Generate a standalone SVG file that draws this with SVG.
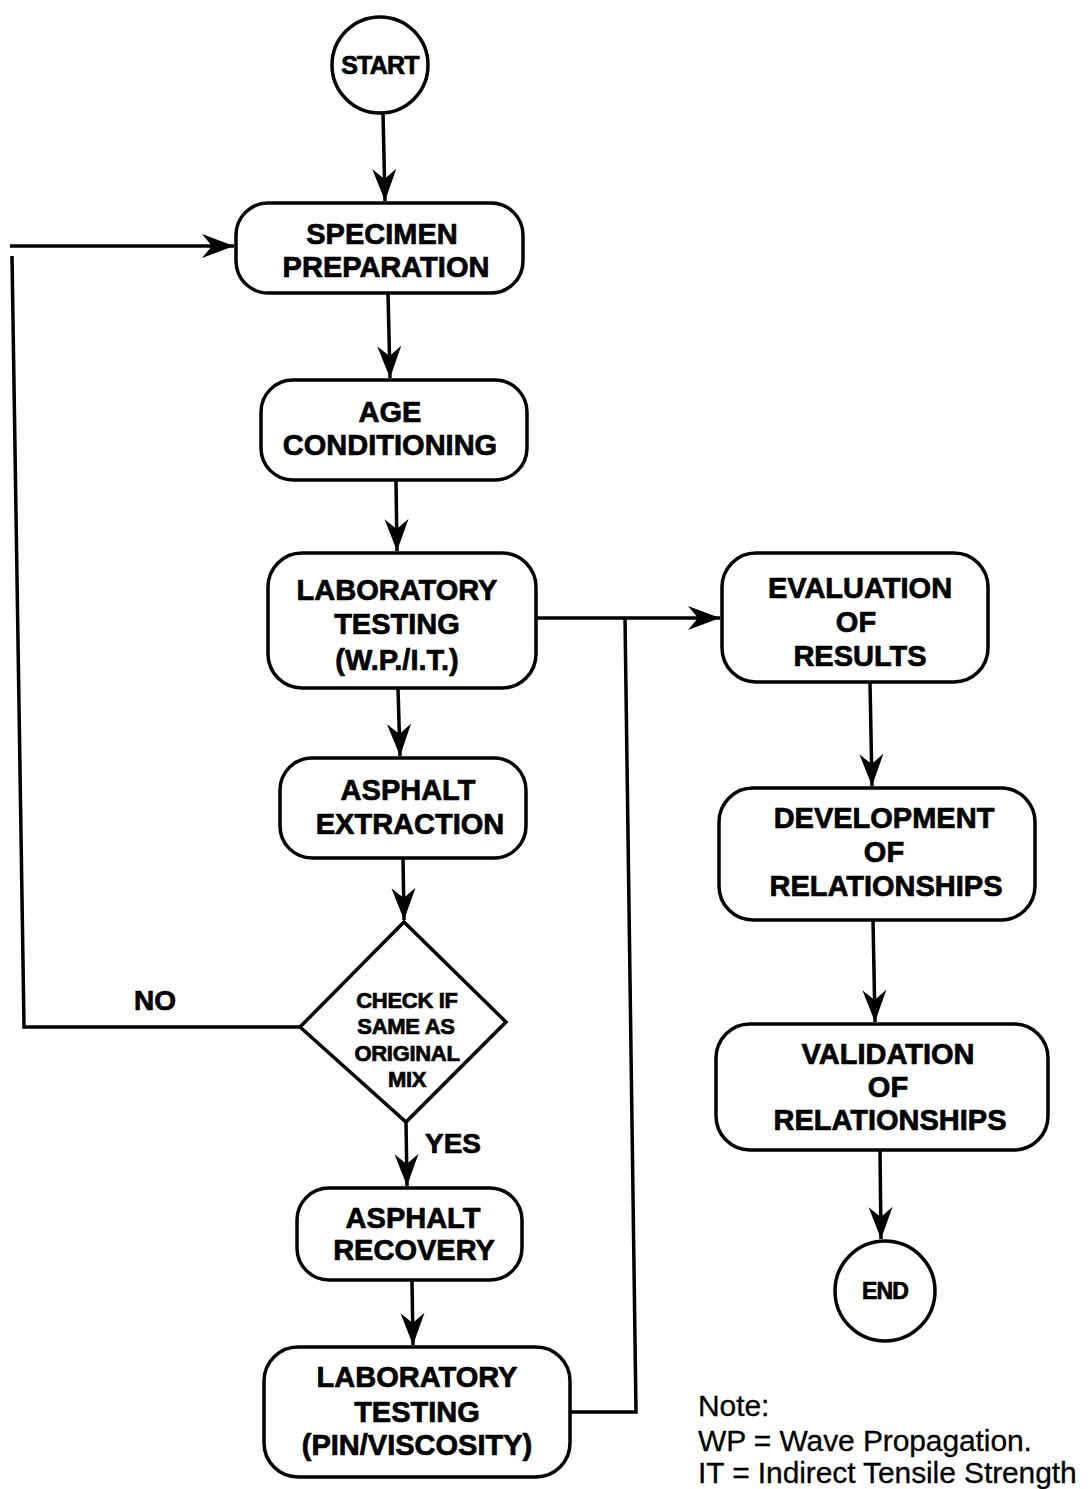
<svg xmlns="http://www.w3.org/2000/svg" width="1092" height="1489" viewBox="0 0 1092 1489">
<style>
.box{fill:#fff;stroke:#000;stroke-width:3.5}
.ln{fill:none;stroke:#000;stroke-width:3.5}
.t{font-family:"Liberation Sans",Arial,sans-serif;font-weight:bold;font-size:29px;text-anchor:middle;fill:#000;stroke:#000;stroke-width:0.7px}
.d{font-size:22px;letter-spacing:-0.3px}
.lbl{font-family:"Liberation Sans",Arial,sans-serif;font-weight:bold;font-size:28px;fill:#000;stroke:#000;stroke-width:0.7px}
.note{font-family:"Liberation Sans",Arial,sans-serif;font-size:30px;letter-spacing:-0.1px;fill:#000;stroke:#000;stroke-width:0.3px}
</style>
<defs>
<marker id="ah" markerUnits="userSpaceOnUse" markerWidth="34" markerHeight="26" viewBox="-32 -13 34 26" refX="0" refY="0" orient="auto">
<path d="M0,0 L-32,-12 L-22,0 L-32,12 Z" fill="#000"/>
</marker>
</defs>
<g id="connectors">
<path class="ln" d="M383,113 L385,201" marker-end="url(#ah)"/>
<path class="ln" d="M388,293 L390,378" marker-end="url(#ah)"/>
<path class="ln" d="M396,480 L397,551" marker-end="url(#ah)"/>
<path class="ln" d="M398,688 L400,756" marker-end="url(#ah)"/>
<path class="ln" d="M403,858 L404,920" marker-end="url(#ah)"/>
<path class="ln" d="M406,1122 L407,1186" marker-end="url(#ah)"/>
<path class="ln" d="M412,1280 L413,1345" marker-end="url(#ah)"/>
<path class="ln" d="M536,618 L720,618" marker-end="url(#ah)"/>
<path class="ln" d="M570,1412 L636,1412 L625,618"/>
<path class="ln" d="M870,682 L872,786" marker-end="url(#ah)"/>
<path class="ln" d="M873,920 L875,1022" marker-end="url(#ah)"/>
<path class="ln" d="M880,1150 L881,1239" marker-end="url(#ah)"/>
<path class="ln" d="M300,1027 L24,1027 L12,256"/>
<path class="ln" d="M10,246 L234,246" marker-end="url(#ah)"/>
</g>
<g id="start">
<circle class="box" cx="380" cy="65" r="48"/>
<text class="t" x="380" y="74" style="font-size:25px;letter-spacing:-0.8px">START</text>
</g>
<g id="specimen">
<rect class="box" x="236" y="203" width="287" height="90" rx="32"/>
<text class="t" x="382" y="244">SPECIMEN</text>
<text class="t" x="386" y="277">PREPARATION</text>
</g>
<g id="age">
<rect class="box" x="261" y="380" width="266" height="100" rx="32"/>
<text class="t" x="390" y="422">AGE</text>
<text class="t" x="390" y="455">CONDITIONING</text>
</g>
<g id="lab1">
<rect class="box" x="268" y="553" width="268" height="135" rx="34"/>
<text class="t" x="397" y="600">LABORATORY</text>
<text class="t" x="397" y="634">TESTING</text>
<text class="t" x="397" y="670">(W.P./I.T.)</text>
</g>
<g id="extraction">
<rect class="box" x="280" y="758" width="246" height="100" rx="32"/>
<text class="t" x="408" y="800">ASPHALT</text>
<text class="t" x="410" y="834">EXTRACTION</text>
</g>
<g id="check">
<polygon class="box" points="404,922 506,1022 406,1122 300,1027"/>
<text class="t d" x="407" y="1008">CHECK IF</text>
<text class="t d" x="406" y="1034">SAME AS</text>
<text class="t d" x="407" y="1061">ORIGINAL</text>
<text class="t d" x="407" y="1087">MIX</text>
</g>
<text class="lbl" x="134" y="1010">NO</text>
<text class="lbl" x="425" y="1153">YES</text>
<g id="recovery">
<rect class="box" x="297" y="1188" width="225" height="92" rx="32"/>
<text class="t" x="413" y="1228">ASPHALT</text>
<text class="t" x="414" y="1260">RECOVERY</text>
</g>
<g id="lab2">
<rect class="box" x="264" y="1347" width="306" height="130" rx="34"/>
<text class="t" x="417" y="1387">LABORATORY</text>
<text class="t" x="417" y="1422">TESTING</text>
<text class="t" x="417" y="1455">(PIN/VISCOSITY)</text>
</g>
<g id="evaluation">
<rect class="box" x="722" y="553" width="266" height="129" rx="34"/>
<text class="t" x="860" y="598">EVALUATION</text>
<text class="t" x="856" y="632">OF</text>
<text class="t" x="860" y="666">RESULTS</text>
</g>
<g id="development">
<rect class="box" x="719" y="788" width="316" height="132" rx="34"/>
<text class="t" x="884" y="828">DEVELOPMENT</text>
<text class="t" x="884" y="862">OF</text>
<text class="t" x="886" y="896">RELATIONSHIPS</text>
</g>
<g id="validation">
<rect class="box" x="716" y="1024" width="332" height="126" rx="34"/>
<text class="t" x="888" y="1064">VALIDATION</text>
<text class="t" x="888" y="1097">OF</text>
<text class="t" x="890" y="1130">RELATIONSHIPS</text>
</g>
<g id="end">
<circle class="box" cx="885" cy="1291" r="50"/>
<text class="t" x="885" y="1299" style="font-size:23px;letter-spacing:-0.8px">END</text>
</g>
<g id="note">
<text class="note" x="698" y="1416">Note:</text>
<text class="note" x="698" y="1451">WP = Wave Propagation.</text>
<text class="note" x="698" y="1483">IT = Indirect Tensile Strength</text>
</g>
</svg>
